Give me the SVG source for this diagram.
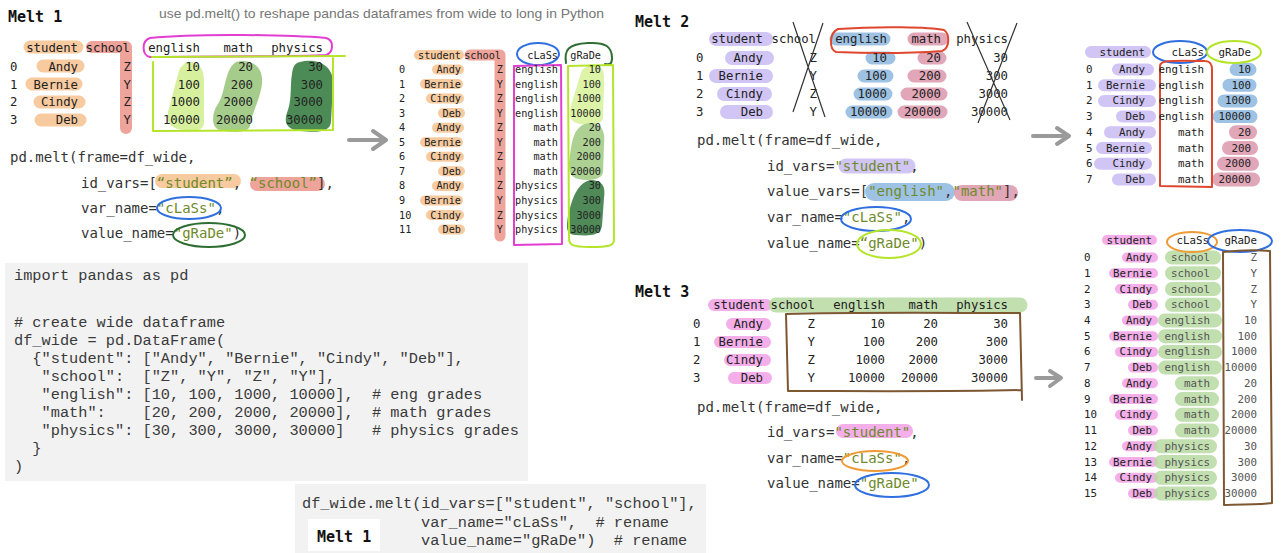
<svg xmlns="http://www.w3.org/2000/svg" width="1281" height="553" viewBox="0 0 1281 553">
<defs>
<style>
.ttl{font-family:"DejaVu Sans Mono",monospace;font-weight:bold;font-size:15px;fill:#111}
.sub{font-family:"Liberation Sans",Arial,sans-serif;font-size:13.4px;fill:#767676}
.m12{font-family:"DejaVu Sans Mono",monospace;font-size:12.3px;fill:#222}
.m11{font-family:"DejaVu Sans Mono",monospace;font-size:10.8px;fill:#222}
.m10{font-family:"DejaVu Sans Mono",monospace;font-size:10.2px;fill:#222}
.e{text-anchor:end}
.dim{fill:#555}
.pc{font-family:"DejaVu Sans Mono",monospace;font-size:14px;fill:#333}
.s{fill:#6f8a2a}
.cb{font-family:"Liberation Mono","Courier New",monospace;font-size:15.3px;fill:#3a3a3a}
.hl{fill:none;stroke-linecap:round;stroke-linejoin:round;opacity:.85}
.or{stroke:#f6c28e}
.rd{stroke:#ec948a}
.lv{stroke:#c9bbf3}
.bl{stroke:#8db7de}
.pk{stroke:#dc97ab}
.mg{stroke:#f2a0e6}
.gn{stroke:#b7d9a1}
.ol{fill:none;stroke-width:2;stroke-linecap:round;stroke-linejoin:round}
.c-mg{stroke:#e23fd2}
.c-yg{stroke:#b5e52b}
.c-bl{stroke:#2f6fe0}
.c-dg{stroke:#2f6e33}
.c-rd{stroke:#e0472f}
.c-or{stroke:#ef9a35}
.c-br{stroke:#7d5632}
.x{stroke:#333;stroke-width:1.2;fill:none}
.arr{fill:none;stroke:#9a9a9a;stroke-width:4;stroke-linecap:round;stroke-linejoin:round}
.box{fill:#f2f2f2}
</style>
</defs>
<rect width="1281" height="553" fill="#fff"/>

<g id="header">
  <text class="ttl" x="8" y="22">Melt 1</text>
  <text class="sub" x="159" y="18" textLength="445" lengthAdjust="spacingAndGlyphs">use pd.melt() to reshape pandas dataframes from wide to long in Python</text>
</g>

<!-- Melt 1: wide table -->
<g id="melt1-table">
  <path class="hl or" stroke-width="13" d="M30 47H77M43 66H78M32 84H76M40 102H79M41 120H80"/>
  <path class="hl rd" stroke-width="12" d="M92 47H126V128"/>
  <path fill="#d7f09e" d="M186 62C196 60 204 66 204 80L204 122C204 130 196 132 184 130C172 129 166 124 168 112C172 98 176 80 180 68Z"/>
  <path fill="#a6cc8c" d="M236 62C250 58 264 66 262 84C260 100 252 112 250 126C248 133 232 133 220 130C210 127 212 112 218 104C226 92 224 70 236 62Z"/>
  <path fill="#4d8b56" d="M300 62C315 58 334 64 333 84L331 122C330 132 318 133 300 131C284 129 284 120 288 110C292 98 290 84 292 74C293 66 295 63 300 62Z"/>
  <path class="ol c-mg" d="M150 38C200 33 290 35 326 38C334 40 334 52 326 55C290 57 200 56 150 57C142 56 141 41 150 38Z"/>
  <path class="ol c-yg" stroke-width="2.5" d="M152 57L345 56M333 57L333 130L153 131L153 62"/>
  <text class="m12"><tspan x="10" y="71">0</tspan><tspan x="10" y="89">1</tspan><tspan x="10" y="106">2</tspan><tspan x="10" y="124">3</tspan></text>
  <text class="m12 e"><tspan x="78" y="52">student</tspan><tspan x="130" y="52">school</tspan><tspan x="200" y="52">english</tspan><tspan x="253" y="52">math</tspan><tspan x="323" y="52">physics</tspan></text>
  <text class="m12 e"><tspan x="78" y="71">Andy</tspan><tspan x="78" y="89">Bernie</tspan><tspan x="78" y="106">Cindy</tspan><tspan x="78" y="124">Deb</tspan></text>
  <text class="m12 e"><tspan x="131" y="71">Z</tspan><tspan x="131" y="89">Y</tspan><tspan x="131" y="106">Z</tspan><tspan x="131" y="124">Y</tspan></text>
  <text class="m12 e"><tspan x="200" y="71">10</tspan><tspan x="200" y="89">100</tspan><tspan x="200" y="106">1000</tspan><tspan x="200" y="124">10000</tspan></text>
  <text class="m12 e"><tspan x="253" y="71">20</tspan><tspan x="253" y="89">200</tspan><tspan x="253" y="106">2000</tspan><tspan x="253" y="124">20000</tspan></text>
  <text class="m12 e"><tspan x="323" y="71">30</tspan><tspan x="323" y="89">300</tspan><tspan x="323" y="106">3000</tspan><tspan x="323" y="124">30000</tspan></text>
</g>

<!-- Melt 1: pd.melt call -->
<g id="melt1-code">
  <path class="hl or" stroke-width="14" d="M162 181H234"/>
  <path class="hl rd" stroke-width="14" d="M257 184H318"/>
  <text class="pc" x="10" y="162">pd.melt(frame=df_wide,</text>
  <text class="pc" x="81" y="188">id_vars=[<tspan class="s">“student”</tspan>, <tspan class="s">“school”</tspan>],</text>
  <text class="pc" x="81" y="213">var_name=<tspan class="s">"cLaSs"</tspan>,</text>
  <text class="pc" x="81" y="238">value_name=<tspan class="s">"gRaDe"</tspan>)</text>
  <ellipse class="ol c-bl" cx="189" cy="208" rx="32" ry="11"/>
  <ellipse class="ol c-dg" cx="209" cy="235" rx="36" ry="12"/>
</g>

<!-- Melt 1: long result -->
<g id="melt1-result">
  <path class="hl or" stroke-width="10" d="M419 55H459M437 69.5H459M425 84H458M431 98.5H459M443 113.1H460M437 127.7H459M425 142.2H458M431 156.8H459M443 171.3H460M437 185.9H459M425 200.4H458M431 215H459M443 229.5H460"/>
  <path class="hl rd" stroke-width="11" d="M470 55H500V236"/>
  <path fill="#dcf3a8" d="M590 64C602 64 605 70 604 84L603 118C602 125 590 126 580 124C570 122 568 116 571 106C574 96 578 82 582 70Z"/>
  <path fill="#acd193" d="M585 124C600 120 606 130 604 145L603 172C602 180 590 181 578 179C568 176 568 168 570 155C572 140 574 128 585 124Z"/>
  <path fill="#4f8a58" d="M590 180C602 180 606 186 604 198L602 226C600 236 590 236 575 235C566 234 566 228 568 216C572 200 576 184 590 180Z"/>
  <ellipse class="ol c-bl" cx="538" cy="54" rx="21" ry="11"/>
  <path class="ol c-dg" d="M566 63C564 50 568 44 588 43C606 42 612 47 612 58C612 64 610 65 605 64"/>
  <path class="ol c-mg" d="M514 66L561 65L562 244L514 245Z"/>
  <path class="ol c-yg" d="M568 66L613 65L614 240C614 246 608 247 590 247C572 247 569 245 569 238Z"/>
  <text class="m10"><tspan x="399" y="73">0</tspan><tspan x="399" y="87.5">1</tspan><tspan x="399" y="102">2</tspan><tspan x="399" y="116.6">3</tspan><tspan x="399" y="131.2">4</tspan><tspan x="399" y="145.7">5</tspan><tspan x="399" y="160.3">6</tspan><tspan x="399" y="174.8">7</tspan><tspan x="399" y="189.4">8</tspan><tspan x="399" y="203.9">9</tspan><tspan x="399" y="218.5">10</tspan><tspan x="399" y="233">11</tspan></text>
  <text class="m10 e"><tspan x="461" y="59">student</tspan><tspan x="501" y="59">school</tspan><tspan x="558" y="59">cLaSs</tspan><tspan x="601" y="59">gRaDe</tspan></text>
  <text class="m10 e"><tspan x="461" y="73">Andy</tspan><tspan x="461" y="87.5">Bernie</tspan><tspan x="461" y="102">Cindy</tspan><tspan x="461" y="116.6">Deb</tspan><tspan x="461" y="131.2">Andy</tspan><tspan x="461" y="145.7">Bernie</tspan><tspan x="461" y="160.3">Cindy</tspan><tspan x="461" y="174.8">Deb</tspan><tspan x="461" y="189.4">Andy</tspan><tspan x="461" y="203.9">Bernie</tspan><tspan x="461" y="218.5">Cindy</tspan><tspan x="461" y="233">Deb</tspan></text>
  <text class="m10 e"><tspan x="503" y="73">Z</tspan><tspan x="503" y="87.5">Y</tspan><tspan x="503" y="102">Z</tspan><tspan x="503" y="116.6">Y</tspan><tspan x="503" y="131.2">Z</tspan><tspan x="503" y="145.7">Y</tspan><tspan x="503" y="160.3">Z</tspan><tspan x="503" y="174.8">Y</tspan><tspan x="503" y="189.4">Z</tspan><tspan x="503" y="203.9">Y</tspan><tspan x="503" y="218.5">Z</tspan><tspan x="503" y="233">Y</tspan></text>
  <text class="m10 e"><tspan x="558" y="73">english</tspan><tspan x="558" y="87.5">english</tspan><tspan x="558" y="102">english</tspan><tspan x="558" y="116.6">english</tspan><tspan x="558" y="131.2">math</tspan><tspan x="558" y="145.7">math</tspan><tspan x="558" y="160.3">math</tspan><tspan x="558" y="174.8">math</tspan><tspan x="558" y="189.4">physics</tspan><tspan x="558" y="203.9">physics</tspan><tspan x="558" y="218.5">physics</tspan><tspan x="558" y="233">physics</tspan></text>
  <text class="m10 e"><tspan x="601" y="73">10</tspan><tspan x="601" y="87.5">100</tspan><tspan x="601" y="102">1000</tspan><tspan x="601" y="116.6">10000</tspan><tspan x="601" y="131.2">20</tspan><tspan x="601" y="145.7">200</tspan><tspan x="601" y="160.3">2000</tspan><tspan x="601" y="174.8">20000</tspan><tspan x="601" y="189.4">30</tspan><tspan x="601" y="203.9">300</tspan><tspan x="601" y="218.5">3000</tspan><tspan x="601" y="233">30000</tspan></text>
</g>

<!-- Melt 2: wide table with dropped columns -->
<g id="melt2-table">
  <text class="ttl" x="635" y="27">Melt 2</text>
  <path class="hl lv" stroke-width="14" d="M716 39H766M732 58H767M716 76H766M724 94H765M727 112H766"/>
  <path class="hl bl" stroke-width="13" d="M836 39H884M872 58H889M864 76H887M860 94H886M852 112H886"/>
  <path class="hl pk" stroke-width="13" d="M914 39H942M924 58H940M914 76H940M907 94H941M904 112H941"/>
  <path class="ol c-rd" d="M838 29C880 26 930 27 944 30C950 34 950 48 942 51C900 54 860 53 836 52C829 49 829 33 838 29Z"/>
  <text class="m12"><tspan x="696" y="62">0</tspan><tspan x="696" y="80">1</tspan><tspan x="696" y="98">2</tspan><tspan x="696" y="116">3</tspan></text>
  <text class="m12 e"><tspan x="763" y="43">student</tspan><tspan x="816" y="43">school</tspan><tspan x="887" y="43">english</tspan><tspan x="941" y="43">math</tspan><tspan x="1008" y="43">physics</tspan></text>
  <text class="m12 e"><tspan x="763" y="62">Andy</tspan><tspan x="763" y="80">Bernie</tspan><tspan x="763" y="98">Cindy</tspan><tspan x="763" y="116">Deb</tspan></text>
  <text class="m12 e"><tspan x="817" y="62">Z</tspan><tspan x="817" y="80">Y</tspan><tspan x="817" y="98">Z</tspan><tspan x="817" y="116">Y</tspan></text>
  <text class="m12 e"><tspan x="887" y="62">10</tspan><tspan x="887" y="80">100</tspan><tspan x="887" y="98">1000</tspan><tspan x="887" y="116">10000</tspan></text>
  <text class="m12 e"><tspan x="941" y="62">20</tspan><tspan x="941" y="80">200</tspan><tspan x="941" y="98">2000</tspan><tspan x="941" y="116">20000</tspan></text>
  <text class="m12 e"><tspan x="1008" y="62">30</tspan><tspan x="1008" y="80">300</tspan><tspan x="1008" y="98">3000</tspan><tspan x="1008" y="116">30000</tspan></text>
  <path class="x" d="M793 22L825 117M823 23L793 112M967 22L1010 120M1017 23L978 123"/>
</g>

<!-- Melt 2: pd.melt call -->
<g id="melt2-code">
  <path class="hl lv" stroke-width="15" d="M846 166H908"/>
  <path class="hl bl" stroke-width="18" d="M874 192H946"/>
  <path class="hl pk" stroke-width="16" d="M962 193H1010"/>
  <text class="pc" x="697" y="145">pd.melt(frame=df_wide,</text>
  <text class="pc" x="767" y="171">id_vars=<tspan class="s">"student"</tspan>,</text>
  <text class="pc" x="767" y="196">value_vars=[<tspan class="s">"english"</tspan>,<tspan class="s">"math"</tspan>],</text>
  <text class="pc" x="767" y="222">var_name=<tspan class="s">"cLaSs"</tspan>,</text>
  <text class="pc" x="767" y="248">value_name=<tspan class="s">“gRaDe"</tspan>)</text>
  <ellipse class="ol c-bl" cx="876" cy="219" rx="35" ry="12"/>
  <ellipse class="ol c-yg" cx="889" cy="244" rx="32" ry="14"/>
</g>

<!-- Melt 2: long result -->
<g id="melt2-result">
  <path class="hl lv" stroke-width="12" d="M1091 52H1145M1118 69.5H1148M1104 85.2H1150M1104 100.9H1150M1122 116.6H1150M1110 132.3H1150M1102 148H1146M1100 163.7H1146M1118 179.4H1150"/>
  <path class="hl bl" stroke-width="13" d="M1236 69.5H1250M1229 85.2H1250M1224 100.9H1251M1219 116.6H1251"/>
  <path class="hl pk" stroke-width="14" d="M1236 132.3H1250M1229 148H1251M1224 163.7H1252M1219 179.4H1253"/>
  <ellipse class="ol c-bl" cx="1180" cy="52" rx="27" ry="11"/>
  <ellipse class="ol c-yg" cx="1234" cy="52" rx="27" ry="11"/>
  <path class="ol c-rd" d="M1160 66C1160 61 1165 60 1205 61C1211 61 1212 65 1212 70L1212 187L1160 186Z"/>
  <text class="m11"><tspan x="1086" y="73">0</tspan><tspan x="1086" y="88.7">1</tspan><tspan x="1086" y="104.4">2</tspan><tspan x="1086" y="120.1">3</tspan><tspan x="1086" y="135.8">4</tspan><tspan x="1086" y="151.5">5</tspan><tspan x="1086" y="167.2">6</tspan><tspan x="1086" y="182.9">7</tspan></text>
  <text class="m11 e"><tspan x="1145" y="56">student</tspan><tspan x="1204" y="56">cLaSs</tspan><tspan x="1251" y="56">gRaDe</tspan></text>
  <text class="m11 e"><tspan x="1145" y="73">Andy</tspan><tspan x="1145" y="88.7">Bernie</tspan><tspan x="1145" y="104.4">Cindy</tspan><tspan x="1145" y="120.1">Deb</tspan><tspan x="1145" y="135.8">Andy</tspan><tspan x="1145" y="151.5">Bernie</tspan><tspan x="1145" y="167.2">Cindy</tspan><tspan x="1145" y="182.9">Deb</tspan></text>
  <text class="m11 e"><tspan x="1204" y="73">english</tspan><tspan x="1204" y="88.7">english</tspan><tspan x="1204" y="104.4">english</tspan><tspan x="1204" y="120.1">english</tspan><tspan x="1204" y="135.8">math</tspan><tspan x="1204" y="151.5">math</tspan><tspan x="1204" y="167.2">math</tspan><tspan x="1204" y="182.9">math</tspan></text>
  <text class="m11 e"><tspan x="1251" y="73">10</tspan><tspan x="1251" y="88.7">100</tspan><tspan x="1251" y="104.4">1000</tspan><tspan x="1251" y="120.1">10000</tspan><tspan x="1251" y="135.8">20</tspan><tspan x="1251" y="151.5">200</tspan><tspan x="1251" y="167.2">2000</tspan><tspan x="1251" y="182.9">20000</tspan></text>
</g>

<!-- source dataframe code -->
<g id="source-code">
  <rect class="box" x="5" y="263" width="523" height="218"/>
  <text class="cb" xml:space="preserve"><tspan x="14" y="280">import pandas as pd</tspan><tspan x="14" y="327"># create wide dataframe</tspan><tspan x="14" y="345">df_wide = pd.DataFrame(</tspan><tspan x="14" y="363">  {"student": ["Andy", "Bernie", "Cindy", "Deb"],</tspan><tspan x="14" y="381">   "school":  ["Z", "Y", "Z", "Y"],</tspan><tspan x="14" y="399">   "english": [10, 100, 1000, 10000],  # eng grades</tspan><tspan x="14" y="417">   "math":    [20, 200, 2000, 20000],  # math grades</tspan><tspan x="14" y="435">   "physics": [30, 300, 3000, 30000]   # physics grades</tspan><tspan x="14" y="453">  }</tspan><tspan x="14" y="471">)</tspan></text>
</g>

<!-- method-call form of Melt 1 -->
<g id="method-code">
  <rect class="box" x="295" y="484" width="411" height="69"/>
  <text class="cb" x="302" y="508">df_wide.melt(id_vars=["student", "school"],</text>
  <text class="cb" x="421" y="527" xml:space="preserve">var_name="cLaSs",  # rename</text>
  <text class="cb" x="421" y="545" xml:space="preserve">value_name="gRaDe")  # rename</text>
  <rect x="308" y="519" width="72" height="32" fill="#fff"/>
  <text class="ttl" x="317" y="542">Melt 1</text>
</g>

<!-- Melt 3: wide table -->
<g id="melt3-table">
  <text class="ttl" x="635" y="297">Melt 3</text>
  <path class="hl mg" stroke-width="12" d="M714 305H766M732 324H765M720 342H765M730 360H765M734 378H766"/>
  <path class="hl gn" stroke-width="15" d="M776 305H1020"/>
  <path class="ol c-br" stroke-width="2.2" d="M786 314C850 312 950 313 1020 313L1022 400M1021 390C950 392 850 391 788 391L786 314"/>
  <text class="m12"><tspan x="693" y="328">0</tspan><tspan x="693" y="346">1</tspan><tspan x="693" y="364">2</tspan><tspan x="693" y="382">3</tspan></text>
  <text class="m12 e"><tspan x="765" y="309">student</tspan><tspan x="815" y="309">school</tspan><tspan x="885" y="309">english</tspan><tspan x="938" y="309">math</tspan><tspan x="1008" y="309">physics</tspan></text>
  <text class="m12 e"><tspan x="763" y="328">Andy</tspan><tspan x="763" y="346">Bernie</tspan><tspan x="763" y="364">Cindy</tspan><tspan x="763" y="382">Deb</tspan></text>
  <text class="m12 e"><tspan x="815" y="328">Z</tspan><tspan x="815" y="346">Y</tspan><tspan x="815" y="364">Z</tspan><tspan x="815" y="382">Y</tspan></text>
  <text class="m12 e"><tspan x="885" y="328">10</tspan><tspan x="885" y="346">100</tspan><tspan x="885" y="364">1000</tspan><tspan x="885" y="382">10000</tspan></text>
  <text class="m12 e"><tspan x="938" y="328">20</tspan><tspan x="938" y="346">200</tspan><tspan x="938" y="364">2000</tspan><tspan x="938" y="382">20000</tspan></text>
  <text class="m12 e"><tspan x="1008" y="328">30</tspan><tspan x="1008" y="346">300</tspan><tspan x="1008" y="364">3000</tspan><tspan x="1008" y="382">30000</tspan></text>
</g>

<!-- Melt 3: pd.melt call -->
<g id="melt3-code">
  <path class="hl mg" stroke-width="14" d="M843 431H906"/>
  <text class="pc" x="697" y="412">pd.melt(frame=df_wide,</text>
  <text class="pc" x="767" y="437">id_vars=<tspan class="s">"student"</tspan>,</text>
  <text class="pc" x="767" y="463">var_name=<tspan class="s">"cLaSs"</tspan>,</text>
  <text class="pc" x="767" y="488">value_name=<tspan class="s">"gRaDe"</tspan></text>
  <ellipse class="ol c-or" cx="875" cy="461" rx="33" ry="10"/>
  <ellipse class="ol c-bl" cx="892" cy="485" rx="37" ry="12"/>
</g>

<!-- Melt 3: long result -->
<g id="melt3-result">
  <path class="hl mg" stroke-width="10" d="M1107 240H1152M1127 257.5H1153M1114 273.2H1153M1120 289H1153M1133 304.7H1153M1127 320.4H1153M1114 336.2H1153M1120 351.9H1153M1133 367.6H1153M1127 383.3H1153M1114 399.1H1153M1120 414.8H1153M1133 430.5H1153M1127 446.3H1153M1114 462H1153M1120 477.7H1153M1133 493.5H1153"/>
  <path class="hl gn" stroke-width="14" d="M1172 257.5H1214M1172 273.2H1214M1172 289H1214M1172 304.7H1214M1165 320.4H1215M1165 336.2H1215M1165 351.9H1215M1165 367.6H1215M1182 383.3H1212M1182 399.1H1212M1182 414.8H1212M1182 430.5H1212M1161 446.3H1210M1161 462H1210M1161 477.7H1210M1161 493.5H1210"/>
  <ellipse class="ol c-or" cx="1192" cy="242" rx="25" ry="10"/>
  <ellipse class="ol c-bl" cx="1240" cy="241" rx="32" ry="11"/>
  <path class="ol c-br" stroke-width="2.2" d="M1223 252C1240 250 1260 250 1270 251L1272 503C1260 505 1240 504 1224 505Z"/>
  <text class="m11"><tspan x="1084" y="261">0</tspan><tspan x="1084" y="276.7">1</tspan><tspan x="1084" y="292.5">2</tspan><tspan x="1084" y="308.2">3</tspan><tspan x="1084" y="323.9">4</tspan><tspan x="1084" y="339.7">5</tspan><tspan x="1084" y="355.4">6</tspan><tspan x="1084" y="371.1">7</tspan><tspan x="1084" y="386.8">8</tspan><tspan x="1084" y="402.6">9</tspan><tspan x="1084" y="418.3">10</tspan><tspan x="1084" y="434">11</tspan><tspan x="1084" y="449.8">12</tspan><tspan x="1084" y="465.5">13</tspan><tspan x="1084" y="481.2">14</tspan><tspan x="1084" y="497">15</tspan></text>
  <text class="m11 e"><tspan x="1152" y="244">student</tspan><tspan x="1209" y="244">cLaSs</tspan><tspan x="1257" y="244">gRaDe</tspan></text>
  <text class="m11 e"><tspan x="1152" y="261">Andy</tspan><tspan x="1152" y="276.7">Bernie</tspan><tspan x="1152" y="292.5">Cindy</tspan><tspan x="1152" y="308.2">Deb</tspan><tspan x="1152" y="323.9">Andy</tspan><tspan x="1152" y="339.7">Bernie</tspan><tspan x="1152" y="355.4">Cindy</tspan><tspan x="1152" y="371.1">Deb</tspan><tspan x="1152" y="386.8">Andy</tspan><tspan x="1152" y="402.6">Bernie</tspan><tspan x="1152" y="418.3">Cindy</tspan><tspan x="1152" y="434">Deb</tspan><tspan x="1152" y="449.8">Andy</tspan><tspan x="1152" y="465.5">Bernie</tspan><tspan x="1152" y="481.2">Cindy</tspan><tspan x="1152" y="497">Deb</tspan></text>
  <text class="m11 e dim"><tspan x="1210" y="261">school</tspan><tspan x="1210" y="276.7">school</tspan><tspan x="1210" y="292.5">school</tspan><tspan x="1210" y="308.2">school</tspan><tspan x="1210" y="323.9">english</tspan><tspan x="1210" y="339.7">english</tspan><tspan x="1210" y="355.4">english</tspan><tspan x="1210" y="371.1">english</tspan><tspan x="1210" y="386.8">math</tspan><tspan x="1210" y="402.6">math</tspan><tspan x="1210" y="418.3">math</tspan><tspan x="1210" y="434">math</tspan><tspan x="1210" y="449.8">physics</tspan><tspan x="1210" y="465.5">physics</tspan><tspan x="1210" y="481.2">physics</tspan><tspan x="1210" y="497">physics</tspan></text>
  <text class="m11 e dim"><tspan x="1257" y="261">Z</tspan><tspan x="1257" y="276.7">Y</tspan><tspan x="1257" y="292.5">Z</tspan><tspan x="1257" y="308.2">Y</tspan><tspan x="1257" y="323.9">10</tspan><tspan x="1257" y="339.7">100</tspan><tspan x="1257" y="355.4">1000</tspan><tspan x="1257" y="371.1">10000</tspan><tspan x="1257" y="386.8">20</tspan><tspan x="1257" y="402.6">200</tspan><tspan x="1257" y="418.3">2000</tspan><tspan x="1257" y="434">20000</tspan><tspan x="1257" y="449.8">30</tspan><tspan x="1257" y="465.5">300</tspan><tspan x="1257" y="481.2">3000</tspan><tspan x="1257" y="497">30000</tspan></text>
</g>

<!-- arrows from wide to long -->
<g id="connectors">
  <path class="arr" d="M349 140H385M373 131L386 140L373 149"/>
  <path class="arr" d="M1033 136H1068M1057 128L1069 136L1057 144"/>
  <path class="arr" d="M1036 378H1060M1050 371L1061 378L1050 386"/>
</g>
</svg>
